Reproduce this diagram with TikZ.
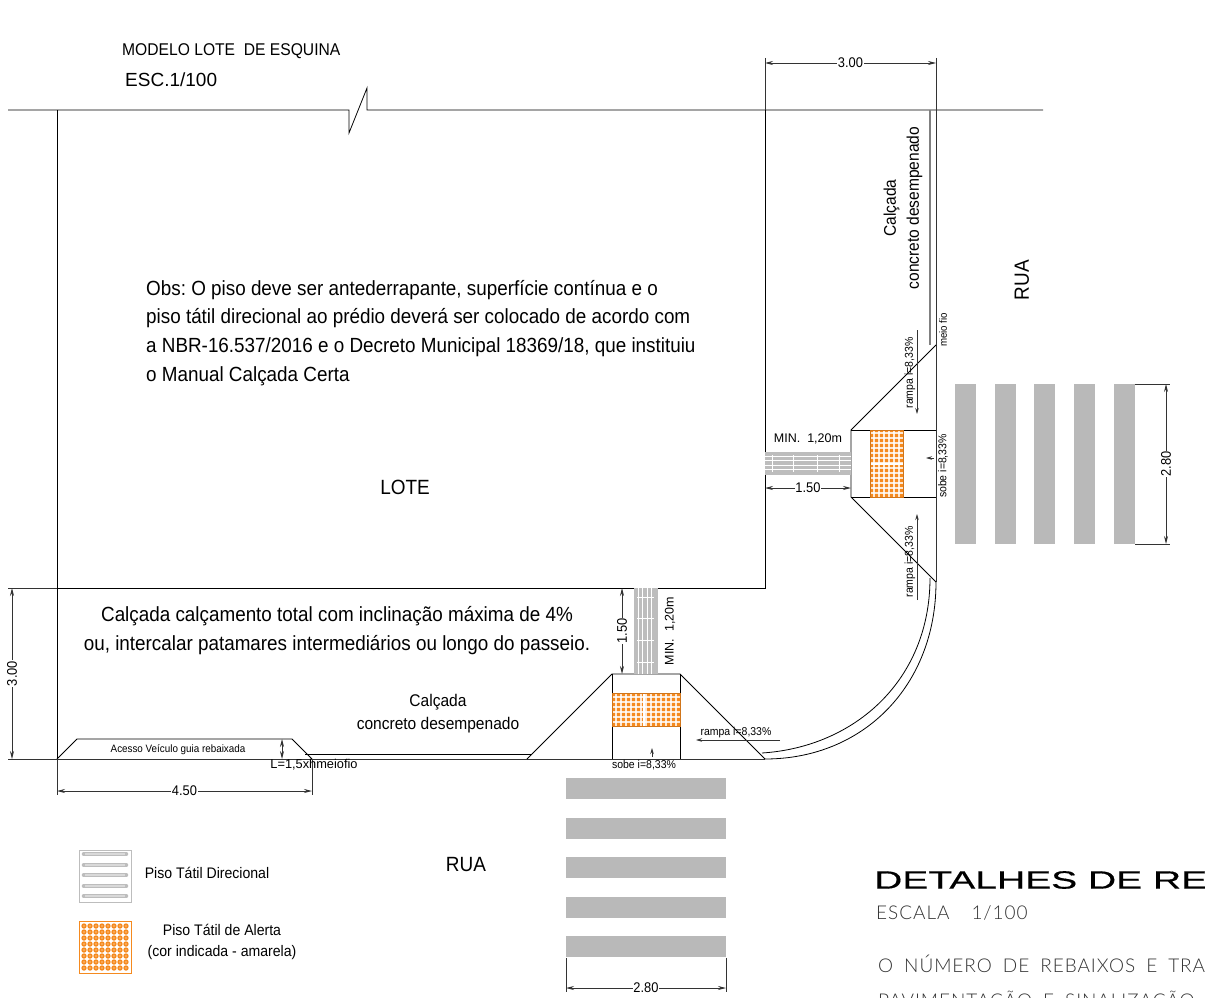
\documentclass[tikz,border=0pt]{standalone}
\usepackage{fontspec}
\usetikzlibrary{arrows.meta}
\setmainfont{Liberation Sans}
\newfontfamily\narrowfont[FakeStretch=0.92]{Liberation Sans}
\newfontfamily\thinfont[LetterSpace=5,WordSpace=1.8]{Lato Light}
\newfontfamily\widefont[FakeStretch=1.56,FakeBold=0.4]{Liberation Sans}
\definecolor{tilegray}{HTML}{BDBDBD}
\definecolor{stripegray}{HTML}{B9B9B9}
\definecolor{alertorange}{HTML}{F58A1F}
\definecolor{linegray}{HTML}{333333}
\tikzset{
  plan/.style={draw=black, line width=0.8pt},
  curb/.style={draw=linegray, line width=1pt},
  dimline/.style={draw=linegray, line width=0.8pt, {Stealth[length=8pt,width=4pt]}-{Stealth[length=8pt,width=4pt]}},
  extline/.style={draw=linegray, line width=0.8pt},
  rampline/.style={draw=linegray, line width=0.8pt, -{Stealth[length=6pt,width=3.5pt]}},
  dimtext/.style={font=\narrowfont\fontsize{14}{14}\selectfont, fill=white, inner sep=0.5pt},
  note/.style={font=\narrowfont\fontsize{20.5}{28.8}\selectfont, align=left, anchor=west, inner sep=0pt},
  smalltext/.style={font=\narrowfont\fontsize{11.4}{11.4}\selectfont, inner sep=0pt},
  midtext/.style={font=\narrowfont\fontsize{16.9}{23}\selectfont, align=center, inner sep=0pt},
  bigtext/.style={font=\narrowfont\fontsize{20.6}{20.6}\selectfont, inner sep=0pt},
  cadtext/.style={font=\thinfont\fontsize{19}{19}\selectfont, anchor=west, inner sep=0pt, text=linegray},
}
\begin{document}
\frenchspacing
\begin{tikzpicture}[x=1pt, y=-1pt]
\useasboundingbox (0,0) rectangle (1205,998);
\clip (0,0) rectangle (1205,998);
% lote
\draw [plan] (8,110) -- (349,110) -- (349,133) -- (367,88) -- (367,110) -- (1043,110);
\draw [plan] (57,110) -- (57,759);
\draw [plan] (765,110) -- (765,588) -- (12,588);
\draw [curb] (8,759) -- (765,759);
\draw [plan] (305,754) -- (532,754);
\draw [plan] (57,759) -- (77,739) -- (292,739) -- (312,759);
% meio fio e esquina
\draw [curb] (936,110) -- (936,582);
\draw [draw=gray, line width=1.2pt] (930,110) -- (930,345);
\draw [plan] (765,759) .. controls (864,759) and (936,685) .. (936,582);
\draw [plan] (762,753) .. controls (855,747) and (930,680) .. (930,578);
% rebaixo direita
\draw [plan] (936,345) -- (851,430) -- (851,497) -- (936,582);
\draw [plan] (851,430) -- (936,430);
\draw [plan] (851,497) -- (936,497);
% rebaixo baixo
\draw [plan] (527,759) -- (612,674) -- (680,674) -- (765,759);
\draw [plan] (612,674) -- (612,759);
\draw [plan] (680,674) -- (680,759);
% piso direcional
\fill [tilegray] (765,452) rectangle (851,475);
\foreach \y in {456,460.5,465,469.5} \draw [white, line width=0.7pt] (765,\y) -- (851,\y);
\foreach \x in {772,793,817,839} \draw [white, line width=0.5pt] (\x,455) -- (\x,472);
\fill [tilegray] (634,588) rectangle (658,674);
\foreach \x in {638,642.5,647,651.5} \draw [white, line width=0.7pt] (\x,588) -- (\x,674);
\foreach \y in {597,618,640,662} \draw [white, line width=0.5pt] (637,\y) -- (654,\y);
% piso alerta
\fill [alertorange] (870,430) rectangle (903,497);
\foreach \x in {874,879,...,902} \draw [white, opacity=0.8, line width=1.1pt] (\x,430) -- (\x,497);
\foreach \y in {433,438,...,496} \draw [white, opacity=0.8, line width=1.1pt] (870,\y) -- (903,\y);
\draw [white, line width=1.4pt] (870,464) -- (903,464);
\draw [alertorange!85!black, line width=0.8pt] (870,430) rectangle (903,497);
\fill [alertorange] (612,693) rectangle (680,726);
\foreach \x in {616,621,...,679} \draw [white, opacity=0.8, line width=1.1pt] (\x,693) -- (\x,726);
\foreach \y in {697,702,...,725} \draw [white, opacity=0.8, line width=1.1pt] (612,\y) -- (680,\y);
\draw [white, line width=1.4pt] (644,693) -- (644,726);
\draw [alertorange!85!black, line width=0.8pt] (612,693) rectangle (680,726);
% faixas
\foreach \x in {955,995,1034,1074,1114} \fill [stripegray] (\x,384) rectangle +(21,160);
\foreach \y in {778,818,857,897,936} \fill [stripegray] (566,\y) rectangle +(160,21);
% cotas
\draw [extline] (765,58) -- (765,110);
\draw [extline] (936,58) -- (936,110);
\draw [dimline] (765,63) -- node [dimtext] (cotaa) {3.00} (936,63);
\draw [extline] (8,588) -- (57,588);
\draw [dimline] (12,588) -- node [dimtext, rotate=90] (cotab) {3.00} (12,759);
\draw [extline] (57,759) -- (57,795);
\draw [extline] (312,759) -- (312,795);
\draw [dimline] (57,791) -- node [dimtext] (cotac) {4.50} (312,791);
\draw [dimline] (765,488) -- node [dimtext] (cotad) {1.50} (851,488);
\draw [dimline] (622,588) -- node [dimtext, rotate=90] (cotae) {1.50} (622,674);
\draw [dimline] (282,739) -- (282,759);
\draw [extline] (1135,384) -- (1170,384);
\draw [extline] (1135,544) -- (1170,544);
\draw [dimline] (1166,384) -- node [dimtext, rotate=90] (cotaf) {2.80} (1166,544);
\draw [extline] (566,958) -- (566,992);
\draw [extline] (726,958) -- (726,992);
\draw [dimline] (566,988) -- node [dimtext] (cotag) {2.80} (726,988);
% setas rampa
\draw [rampline] (917,330) -- (917,414);
\draw [rampline] (917,600) -- (917,514);
\draw [rampline] (780,740) -- (696,740);
\draw [rampline] (934,458) -- (926,458);
\draw [rampline] (652,757) -- (652,748);
% textos
\node [anchor=west, inner sep=0pt, font=\narrowfont\fontsize{17}{17}\selectfont] (titlelote) at (122,51.5) {MODELO LOTE\ \ DE ESQUINA};
\node [anchor=west, inner sep=0pt, font=\fontsize{19}{19}\selectfont] (esclote) at (125,80) {ESC.1/100};
\node [note] (obs) at (146,333) {Obs: O piso deve ser antederrapante, superfície contínua e o\\piso tátil direcional ao prédio deverá ser colocado de acordo com\\a NBR-16.537/2016 e o Decreto Municipal 18369/18, que instituiu\\o Manual Calçada Certa};
\node [bigtext] (lote) at (405,487) {LOTE};
\node [midtext, font=\narrowfont\fontsize{20.5}{29}\selectfont] (calcada) at (337,630.5) {Calçada calçamento total com inclinação máxima de 4\%\\ou, intercalar patamares intermediários ou longo do passeio.};
\node [midtext] (calcadab) at (438,714) {Calçada\\concreto desempenado};
\node [midtext, rotate=90] (calcadaa) at (903,208) {Calçada\\concreto desempenado};
\node [bigtext, rotate=90] (ruaa) at (1022,280) {RUA};
\node [bigtext] (ruab) at (466,865) {RUA};
\node [smalltext, rotate=90] (rampaa) at (910,373) {rampa i=8,33\%};
\node [smalltext, rotate=90] (rampab) at (910,562) {rampa i=8,33\%};
\node [smalltext] (rampac) at (736,733) {rampa i=8,33\%};
\node [smalltext, rotate=90, font=\narrowfont\fontsize{10.5}{10.5}\selectfont] (meiofio) at (943,330) {meio fio};
\node [smalltext, rotate=90] (sobea) at (943,466) {sobe i=8,33\%};
\node [smalltext] (sobeb) at (644,765) {sobe i=8,33\%};
\node [smalltext, font=\fontsize{12.5}{12.5}\selectfont] (mina) at (808,439) {MIN.\ \ 1,20m};
\node [smalltext, rotate=90, font=\fontsize{12.5}{12.5}\selectfont] (minb) at (670,631) {MIN.\ \ 1,20m};
\node [smalltext, font=\narrowfont\fontsize{10.7}{10.7}\selectfont] (acesso) at (178,750) {Acesso Veículo guia rebaixada};
\node [smalltext, font=\fontsize{12.8}{12.8}\selectfont] (largura) at (314,765) {L=1,5xhmeiofio};
% legenda
\draw [draw=tilegray, line width=0.9pt] (79,850) rectangle (131,902);
\foreach \y in {854,865,875,886,896} {
  \draw [tilegray, line width=4.6pt, line cap=round] (84,\y) -- (126,\y);
  \draw [white!70!gray, line width=1.2pt] (85,\y) -- (125,\y);
}
\draw [draw=alertorange, line width=1pt] (79,921) rectangle (131,973);
\foreach \x in {0,...,7} \foreach \y in {0,...,7} {
  \fill [alertorange] (84+6*\x,926+6*\y) circle (2.7);
  \fill [white] (84+6*\x,926+6*\y) circle (0.6);
}
\node [smalltext, font=\narrowfont\fontsize{15.3}{15.3}\selectfont] (legdir) at (207,873) {Piso Tátil Direcional};
\node [midtext, font=\narrowfont\fontsize{15.3}{21}\selectfont] (legale) at (222,942) {Piso Tátil de Alerta\\(cor indicada - amarela)};
% detalhes
\node [anchor=west, inner sep=0pt, font=\widefont\fontsize{25}{25}\selectfont] (detalhes) at (874,880) {DETALHES DE RE};
\node [cadtext] (escala) at (876,913) {ESCALA\ \ 1/100};
\node [cadtext] (numero) at (878,964) {O NÚMERO DE REBAIXOS E TRA};
\node [cadtext] (pavimento) at (878,1001) {PAVIMENTAÇÃO E SINALIZAÇÃO};
\end{tikzpicture}
\end{document}
